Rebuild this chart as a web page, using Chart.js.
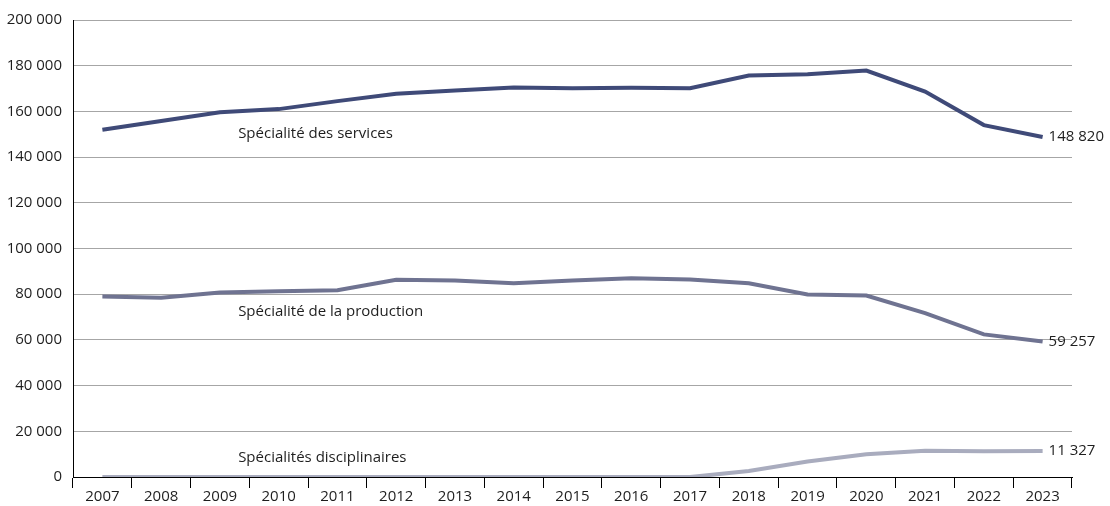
<!DOCTYPE html>
<html lang="fr">
<head>
<meta charset="UTF-8">
<title>Effectifs par spécialité</title>
<script src="https://cdn.jsdelivr.net/npm/chart.js"></script>
<style>
    body { margin: 0; background: #fff; }
    #wrap { width: 1110px; height: 506px; }
</style>
</head>
<body>
<div id="wrap"><canvas id="chart"></canvas></div>
<script>
    const years = ['2007','2008','2009','2010','2011','2012','2013','2014','2015','2016','2017','2018','2019','2020','2021','2022','2023'];
    const services = [152000,155800,159600,161000,164500,167700,169100,170500,170100,170300,170100,175700,176300,177900,168700,154000,148820];
    const production = [79000,78500,80700,81300,81700,86300,86000,84800,86000,87000,86400,84800,79900,79400,71700,62400,59257];
    const disciplinaires = [0,0,0,0,0,0,0,0,0,0,0,2600,6800,10000,11500,11300,11327];
    const seriesNames = ['Spécialité des services', 'Spécialité de la production', 'Spécialités disciplinaires'];
    const colors = ['#3f4a78', '#6f7391', '#a9acbe'];

    const fmt = v => String(Math.round(v)).replace(/\B(?=(\d{3})+(?!\d))/g, ' ');
    const FONT = '"Open Sans", Lato, sans-serif';

    // series names placed inside the plot, end values after the last point
    const labelsPlugin = {
        id: 'labels',
        afterDatasetsDraw(chart) {
            const ctx = chart.ctx;
            const x = chart.scales.x, y = chart.scales.y;
            const spots = [[2.31, 150400], [2.31, 72200], [2.31, 8300]];
            ctx.save();
            ctx.font = '15px ' + FONT;
            ctx.fillStyle = '#1e1e1e';
            ctx.textBaseline = 'middle';
            ctx.textAlign = 'left';
            spots.forEach((s, i) => {
                ctx.fillText(seriesNames[i], x.getPixelForValue(s[0]), y.getPixelForValue(s[1]));
            });
            chart.data.datasets.forEach((ds, i) => {
                const pts = chart.getDatasetMeta(i).data;
                const p = pts[pts.length - 1];
                ctx.fillText(fmt(ds.data[ds.data.length - 1]), p.x + 6, p.y);
            });
            ctx.restore();
        }
    };

    new Chart(document.getElementById('chart'), {
        type: 'line',
        data: {
            labels: years,
            datasets: [services, production, disciplinaires].map((d, i) => ({
                label: seriesNames[i],
                data: d,
                borderColor: colors[i],
                borderWidth: 4,
                pointRadius: 0,
                tension: 0,
                fill: false
            }))
        },
        options: {
            responsive: true,
            maintainAspectRatio: false,
            animation: false,
            layout: { padding: { top: 13, right: 38, left: 0, bottom: 0 } },
            plugins: { legend: { display: false }, tooltip: { enabled: false } },
            scales: {
                x: {
                    offset: true,
                    grid: { offset: true, drawOnChartArea: false, drawTicks: true, tickLength: 11, color: '#000' },
                    border: { color: '#000', width: 1 },
                    ticks: { color: '#1e1e1e', font: { family: FONT, size: 15 }, padding: 0, maxRotation: 0 },
                    afterFit(s) { s.height = 29; }
                },
                y: {
                    min: 0, max: 200000,
                    grid: { color: '#a6a6a6', drawTicks: false },
                    border: { color: '#000', width: 1 },
                    ticks: { stepSize: 20000, color: '#1e1e1e', font: { family: FONT, size: 15 }, padding: 11, callback: v => fmt(v) },
                    afterFit(s) { s.width = 73; }
                }
            }
        },
        plugins: [labelsPlugin]
    });
</script>
</body>
</html>
